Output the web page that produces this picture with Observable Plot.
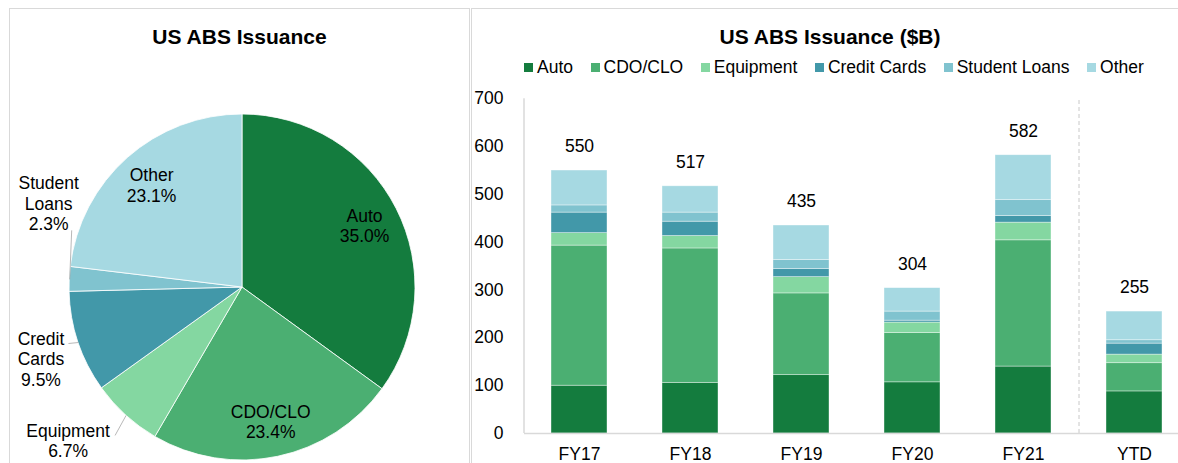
<!DOCTYPE html>
<html>
<head>
<meta charset="utf-8">
<script src="https://cdn.jsdelivr.net/npm/d3@7"></script>
<script src="https://cdn.jsdelivr.net/npm/@observablehq/plot@0.6"></script>
<style>
  body { margin: 0; background: #fff; font-family: "Liberation Sans", Arial, sans-serif; }
  #wrap { position: relative; width: 1178px; height: 463px; overflow: hidden; background: #fff; }
  #wrap svg { position: absolute; top: 0; }
  .panel { position: absolute; border: 1px solid #d9d9d9; box-sizing: border-box; background: transparent; pointer-events: none; }
  .title { position: absolute; font-weight: bold; font-size: 21px; line-height: 24px; text-align: center; color: #000; white-space: nowrap; }
  #legend { position: absolute; left: 524px; top: 57px; display: flex; align-items: center; font-size: 17.5px; line-height: 20px; color: #000; white-space: nowrap; }
  #legend .item { display: flex; align-items: center; margin-right: 17.5px; }
  #legend .sw { width: 9px; height: 9px; margin-right: 4px; margin-top: 1px; }
</style>
</head>
<body>
<div id="wrap"></div>
<script>
// ---------- data ----------
const categories = ["FY17", "FY18", "FY19", "FY20", "FY21", "YTD"];
const series = ["Auto", "CDO/CLO", "Equipment", "Credit Cards", "Student Loans", "Other"];
const colors = ["#147C3E", "#4BAF72", "#84D7A1", "#4298A9", "#80C3CF", "#A6D9E2"];

const auto         = [100, 106, 122, 107, 140, 88];
const cdoClo       = [293, 281, 171, 103, 264, 59];
const equipment    = [26, 26, 34, 22, 37, 18];
const creditCards  = [43, 30, 17, 4, 14, 23];
const studentLoans = [15, 19, 19, 19, 33, 7];
const other        = [73, 55, 72, 49, 94, 60];
const totals       = [550, 517, 435, 304, 582, 255];

const yTicks = [0, 100, 200, 300, 400, 500, 600, 700];

// pie shares (%)
const pieShares = [35.0, 23.4, 6.7, 9.5, 2.3, 23.1];

// ---------- layout (not data) ----------
const FONT = "Liberation Sans, Arial, sans-serif";
const pieGeom = { cx: 242, cy: 287, r: 173, labelR: 137 };
// outside labels: lead = offset from slice edge to leader end; text = offset from leader end to text block centre
const outsideLabels = {
  "Student Loans": { lead: [2, -49], text: [-23, -27] },
  "Credit Cards":  { lead: [-10, 1], text: [-27.5, 15] },
  "Equipment":     { lead: [-11, 20], text: [-47, 5] }
};
const pieLabelText = {
  "Auto": "Auto", "CDO/CLO": "CDO/CLO", "Equipment": "Equipment",
  "Credit Cards": "Credit\nCards", "Student Loans": "Student\nLoans", "Other": "Other"
};

const wrap = document.getElementById("wrap");
const colorOf = d3.scaleOrdinal(series, colors);

// ---------- pie ----------
const pieRows = series.map((s, i) => ({ name: s, share: pieShares[i] }));
const arcs = d3.pie().sort(null).value(d => d.share)(pieRows);
const labelRows = [];
const leaderRows = [];
arcs.forEach(a => {
  const mid = (a.startAngle + a.endAngle) / 2;
  const txt = pieLabelText[a.data.name] + "\n" + a.data.share.toFixed(1) + "%";
  const o = outsideLabels[a.data.name];
  if (o) {
    const ex = pieGeom.cx + pieGeom.r * Math.sin(mid);
    const ey = pieGeom.cy - pieGeom.r * Math.cos(mid);
    const ax = ex + o.lead[0], ay = ey + o.lead[1];
    leaderRows.push({ x1: ex, y1: ey, x2: ax, y2: ay });
    labelRows.push({ x: ax + o.text[0], y: ay + o.text[1], text: txt });
  } else {
    labelRows.push({
      x: pieGeom.cx + pieGeom.labelR * Math.sin(mid),
      y: pieGeom.cy - pieGeom.labelR * Math.cos(mid),
      text: txt
    });
  }
});

const piePlot = Plot.plot({
  width: 470, height: 463, margin: 0,
  style: { background: "transparent", fontFamily: FONT, color: "#000" },
  x: { domain: [0, 470], range: [0, 470], axis: null },
  y: { domain: [0, 463], range: [0, 463], axis: null },
  marks: [
    (index, scales) => {
      const sx = typeof scales.x === "function" ? scales.x : v => v;
      const sy = typeof scales.y === "function" ? scales.y : v => v;
      const cx = sx(pieGeom.cx), cy = sy(pieGeom.cy);
      const rr = sx(pieGeom.cx + pieGeom.r) - cx;
      const arcGen = d3.arc().innerRadius(0).outerRadius(rr);
      const g = d3.create("svg:g").attr("transform", `translate(${cx},${cy})`);
      g.selectAll("path").data(arcs).join("path")
        .attr("d", arcGen)
        .attr("fill", d => colorOf(d.data.name))
        .attr("stroke", "#ffffff")
        .attr("stroke-width", 0.8);
      return g.node();
    },
    Plot.link(leaderRows, { x1: "x1", y1: "y1", x2: "x2", y2: "y2", stroke: "#a6a6a6", strokeWidth: 0.8 }),
    Plot.text(labelRows, { x: "x", y: "y", text: "text", fontSize: 17.5, lineHeight: 1.17, lineAnchor: "middle", fill: "#000" })
  ]
});
piePlot.style.left = "0px";
wrap.appendChild(piePlot);

// ---------- stacked bars ----------
const seriesValues = [auto, cdoClo, equipment, creditCards, studentLoans, other];
const rows = [];
categories.forEach((c, i) => seriesValues.forEach((vals, j) => rows.push({ category: c, series: series[j], value: vals[i] })));
const totalRows = categories.map((c, i) => ({ category: c, total: totals[i] }));

const xRange = [53.5, 719.5];
const step = (xRange[1] - xRange[0]) / categories.length;

const barPlot = Plot.plot({
  width: 708, height: 463,
  marginLeft: 54, marginRight: 0, marginTop: 98, marginBottom: 30,
  style: { background: "transparent", fontFamily: FONT, fontSize: "17.5px", color: "#000" },
  x: { domain: categories, range: xRange, paddingInner: 0.5, paddingOuter: 0.25, axis: null, label: null },
  y: { domain: [0, 700], range: [433, 98.3], axis: null, label: null },
  color: { domain: series, range: colors },
  marks: [
    Plot.barY(rows, { x: "category", y: "value", fill: "series", order: series, stroke: "#ffffff", strokeWidth: 0.7, strokeOpacity: 0.55 }),
    Plot.ruleX([categories[0]], { x: d => d, y1: 0, y2: 700, dx: -step / 2, stroke: "#d9d9d9", strokeWidth: 1.5 }),
    Plot.ruleX([categories[categories.length - 1]], { x: d => d, y1: 0, y2: 697, dx: -step / 2, stroke: "#c8c8c8", strokeWidth: 1, strokeDasharray: "4,3" }),
    Plot.ruleY([0], { stroke: "#d9d9d9", strokeWidth: 1.5 }),
    Plot.axisY({ ticks: yTicks, tickSize: 0, tickPadding: 21, fontSize: 17.5, tickFormat: d => String(d), label: null }),
    Plot.axisX({ tickSize: 0, tickPadding: 14, fontSize: 17.5, label: null }),
    Plot.text(totalRows, { x: "category", y: "total", text: d => String(d.total), dy: -24, fontSize: 17.5, fill: "#000" })
  ]
});
barPlot.style.left = "470px";
wrap.appendChild(barPlot);

// ---------- panels, titles, legend ----------
const leftPanel = document.createElement("div");
leftPanel.className = "panel";
Object.assign(leftPanel.style, { left: "9px", top: "8px", width: "461px", height: "470px" });
wrap.appendChild(leftPanel);

const rightPanel = document.createElement("div");
rightPanel.className = "panel";
Object.assign(rightPanel.style, { left: "471px", top: "8px", width: "730px", height: "470px" });
wrap.appendChild(rightPanel);

const t1 = document.createElement("div");
t1.className = "title";
t1.textContent = "US ABS Issuance";
Object.assign(t1.style, { left: "9px", width: "461px", top: "25px" });
wrap.appendChild(t1);

const t2 = document.createElement("div");
t2.className = "title";
t2.textContent = "US ABS Issuance ($B)";
Object.assign(t2.style, { left: "470px", width: "720px", top: "25px" });
wrap.appendChild(t2);

const legend = document.createElement("div");
legend.id = "legend";
series.forEach((s, i) => {
  const item = document.createElement("div");
  item.className = "item";
  const sw = document.createElement("span");
  sw.className = "sw";
  sw.style.background = colors[i];
  const lab = document.createElement("span");
  lab.textContent = s;
  item.appendChild(sw);
  item.appendChild(lab);
  legend.appendChild(item);
});
wrap.appendChild(legend);
</script>
</body>
</html>
